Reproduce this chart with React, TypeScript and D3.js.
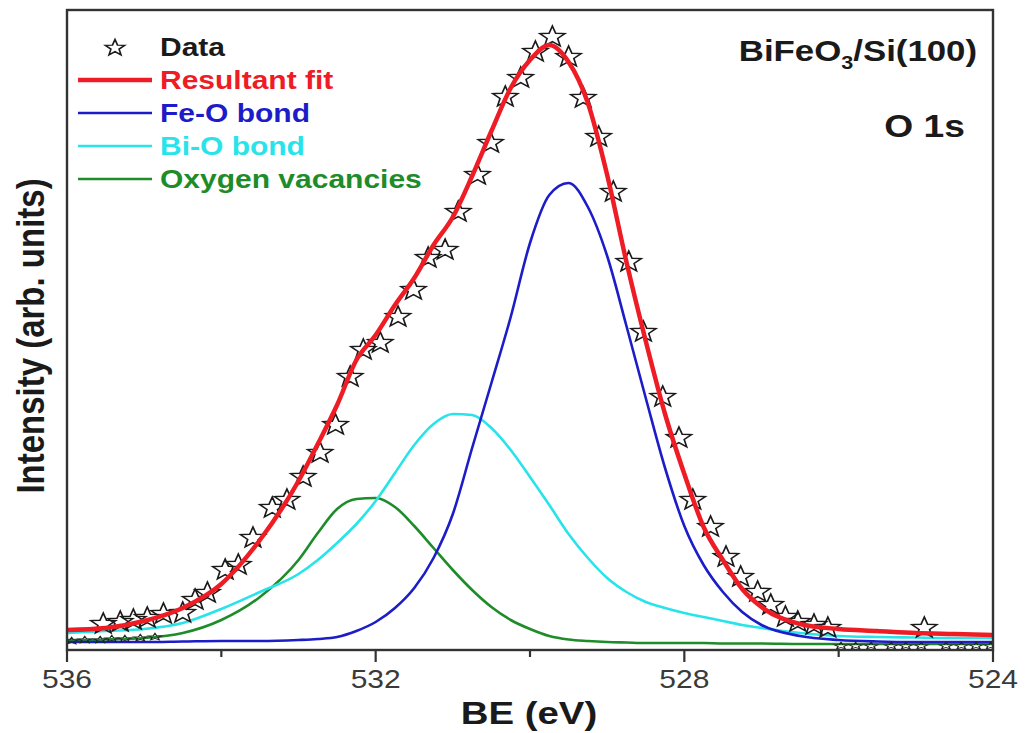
import React from 'react';
import * as d3 from 'd3';

// Binding energy grid (eV) for the fitted curves
const beGrid = [536, 535.5, 535, 534.5, 534, 533.5, 533, 532.75, 532.5, 532.25, 532, 531.75, 531.5, 531.25, 531, 530.75, 530.5, 530.25, 530, 529.75, 529.5, 529.25, 529, 528.75, 528.5, 528.25, 528, 527.75, 527.5, 527.25, 527, 526.5, 526, 525.5, 525, 524.5, 524];
const resultantFit = [20, 22, 29, 42, 66, 110, 169, 206, 245, 290, 315, 345, 372, 405, 433, 474, 519, 562, 590, 605, 588, 547, 475, 388, 309, 236, 176, 123, 90, 61, 43, 26, 21, 19, 17, 16, 15];
const feOBond = [8, 8, 8, 8.5, 9, 9, 10, 11, 13, 19, 28, 42, 62, 92, 136, 202, 267, 333, 407, 455, 467, 443, 394, 324, 252, 182, 124, 85, 58, 38, 25, 14, 10, 8.5, 8, 8, 8];
const biOBond = [17, 19, 21, 27, 41, 58, 76, 90, 107, 126, 149, 177, 205, 226, 236, 235, 222, 200, 173, 145, 116, 92, 72, 58, 48, 42, 37, 33, 29, 25, 22, 17, 14, 13, 12.5, 12, 12];
const oxygenVacancies = [10, 10.5, 12, 17, 30, 53, 90, 117, 141, 151, 152, 143, 124, 102, 80, 60, 43, 30, 21, 14, 10.5, 9, 8, 7.5, 7, 7, 7, 7, 6.5, 6.5, 6.5, 6, 6, 6, 6, 6, 6];

// Measured data (stars)
const dataBE = [535.53, 535.31, 535.14, 534.96, 534.75, 534.5, 534.34, 534.18, 533.95, 533.78, 533.59, 533.34, 533.15, 532.94, 532.72, 532.52, 532.33, 532.16, 531.94, 531.71, 531.51, 531.32, 531.1, 530.93, 530.68, 530.51, 530.32, 530.12, 529.93, 529.71, 529.5, 529.31, 529.11, 528.92, 528.72, 528.53, 528.28, 528.07, 527.89, 527.66, 527.46, 527.27, 527.05, 526.88, 526.69, 526.53, 526.32, 526.14, 524.89];
const dataIntensity = [26, 28, 30, 32, 36, 37, 50, 57, 80, 85, 112, 142, 150, 173, 197, 225, 273, 300, 307, 333, 360, 392, 400, 438, 475, 507, 553, 572, 598, 613, 593, 552, 513, 458, 388, 318, 253, 212, 150, 123, 93, 73, 58, 45, 33, 28, 25, 22, 22];
// Data points crowded at the baseline
const tailBE = [535.94, 535.77, 535.57, 535.42, 535.25, 535.05, 534.86, 525.97, 525.78, 525.58, 525.32, 525.13, 524.93, 524.61, 524.41, 524.22, 524.03];
const tailIntensity = [9, 10, 10, 11, 11, 12, 13, 4, 4, 4, 4, 4, 4, 4, 4, 4, 4];

const majorTicks = [536, 532, 528, 524];
const minorTicks = [534, 530, 526];

const legendItems = [
  { label: 'Resultant fit', color: '#ee1c24', width: 4.5 },
  { label: 'Fe-O bond', color: '#1c1cc8', width: 2.6 },
  { label: 'Bi-O bond', color: '#28e4ea', width: 2.6 },
  { label: 'Oxygen vacancies', color: '#1e8c28', width: 2.6 },
];

const W = 1026;
const H = 733;
const M = { left: 67, right: 993, top: 10, bottom: 650 };
const FONT = '"Liberation Sans", Arial, Helvetica, sans-serif';
const SX = 1.2;

function starPath(r: number): string {
  const ri = r * 0.42;
  const pts: string[] = [];
  for (let i = 0; i < 10; i++) {
    const rad = i % 2 === 0 ? r : ri;
    const a = (Math.PI / 5) * i - Math.PI / 2;
    pts.push(`${(rad * Math.cos(a)).toFixed(2)},${(rad * Math.sin(a)).toFixed(2)}`);
  }
  return 'M' + pts.join('L') + 'Z';
}

export default function App() {
  const x = d3.scaleLinear().domain([536, 524]).range([M.left, M.right]);
  const y = d3.scaleLinear().domain([0, 640]).range([M.bottom, M.top]);
  const mkLine = (vals: number[]) =>
    d3
      .line<number>()
      .x((_, i) => x(beGrid[i]))
      .y((d) => y(d))
      .curve(d3.curveMonotoneX)(vals) || '';

  const star = starPath(11);
  const smallStar = starPath(6);
  const legendStar = starPath(8.5);

  const curves = [
    { vals: oxygenVacancies, ...legendItems[3] },
    { vals: biOBond, ...legendItems[2] },
    { vals: feOBond, ...legendItems[1] },
  ];

  return (
    <svg width={W} height={H} style={{ position: 'absolute', left: 0, top: 0, background: '#fff' }}>
      <defs>
        <clipPath id="plotClip">
          <rect x={M.left} y={M.top} width={M.right - M.left} height={M.bottom - M.top} />
        </clipPath>
      </defs>
      <rect x={0} y={0} width={W} height={H} fill="#fff" />

      <g clipPath="url(#plotClip)">
        {curves.map((c) => (
          <path key={c.label} d={mkLine(c.vals)} fill="none" stroke={c.color} strokeWidth={c.width} />
        ))}
        {tailBE.map((b, i) => (
          <path
            key={'t' + i}
            d={smallStar}
            transform={`translate(${x(b)},${y(tailIntensity[i])}) scale(${SX},0.6)`}
            fill="none"
            stroke="#222"
            strokeWidth={1.2}
          />
        ))}
        {dataBE.map((b, i) => (
          <path
            key={'d' + i}
            d={star}
            transform={`translate(${x(b)},${y(dataIntensity[i])}) scale(${SX},1)`}
            fill="none"
            stroke="#1a1a1a"
            strokeWidth={1.4}
          />
        ))}
        <path d={mkLine(resultantFit)} fill="none" stroke={legendItems[0].color} strokeWidth={4.5} />
      </g>

      {/* frame */}
      <rect x={M.left} y={M.top} width={M.right - M.left} height={M.bottom - M.top} fill="none" stroke="#333" strokeWidth={2.4} />

      {/* ticks */}
      {majorTicks.map((t) => (
        <g key={'M' + t}>
          <line x1={x(t)} x2={x(t)} y1={M.bottom} y2={M.bottom + 12} stroke="#333" strokeWidth={2.2} />
          <text
            transform={`translate(${x(t)},688) scale(${SX},1)`}
            textAnchor="middle"
            fontFamily={FONT}
            fontSize={25}
            fill="#3a3a3a"
          >
            {t}
          </text>
        </g>
      ))}
      {minorTicks.map((t) => (
        <line key={'m' + t} x1={x(t)} x2={x(t)} y1={M.bottom} y2={M.bottom + 7} stroke="#333" strokeWidth={2.2} />
      ))}

      {/* axis titles */}
      <text
        transform={`translate(529,724) scale(${SX},1)`}
        textAnchor="middle"
        fontFamily={FONT}
        fontSize={32}
        fontWeight="bold"
        fill="#1a1a1a"
      >
        BE (eV)
      </text>
      <text
        transform={`translate(44,336) scale(${SX},1) rotate(-90)`}
        textAnchor="middle"
        fontFamily={FONT}
        fontSize={33}
        fontWeight="bold"
        fill="#1a1a1a"
      >
        Intensity (arb. units)
      </text>

      {/* legend */}
      <path d={legendStar} transform={`translate(115,48) scale(${SX},1)`} fill="none" stroke="#1a1a1a" strokeWidth={1.4} />
      <text transform={`translate(160,56) scale(${SX},1)`} fontFamily={FONT} fontSize={25} fontWeight="bold" fill="#1a1a1a">
        Data
      </text>
      {legendItems.map((it, i) => {
        const yb = 89 + i * 33;
        return (
          <g key={it.label}>
            <line x1={78} x2={152} y1={yb - 9} y2={yb - 9} stroke={it.color} strokeWidth={it.width} />
            <text transform={`translate(160,${yb}) scale(${SX},1)`} fontFamily={FONT} fontSize={25} fontWeight="bold" fill={it.color}>
              {it.label}
            </text>
          </g>
        );
      })}

      {/* annotations */}
      <text transform={`translate(977,61) scale(${SX},1)`} textAnchor="end" fontFamily={FONT} fontSize={29} fontWeight="bold" fill="#1a1a1a">
        BiFeO<tspan fontSize={18} dy={8}>3</tspan>
        <tspan dy={-8}>/Si(100)</tspan>
      </text>
      <text transform={`translate(965,137) scale(${SX},1)`} textAnchor="end" fontFamily={FONT} fontSize={31} fontWeight="bold" fill="#1a1a1a">
        O 1s
      </text>
    </svg>
  );
}
